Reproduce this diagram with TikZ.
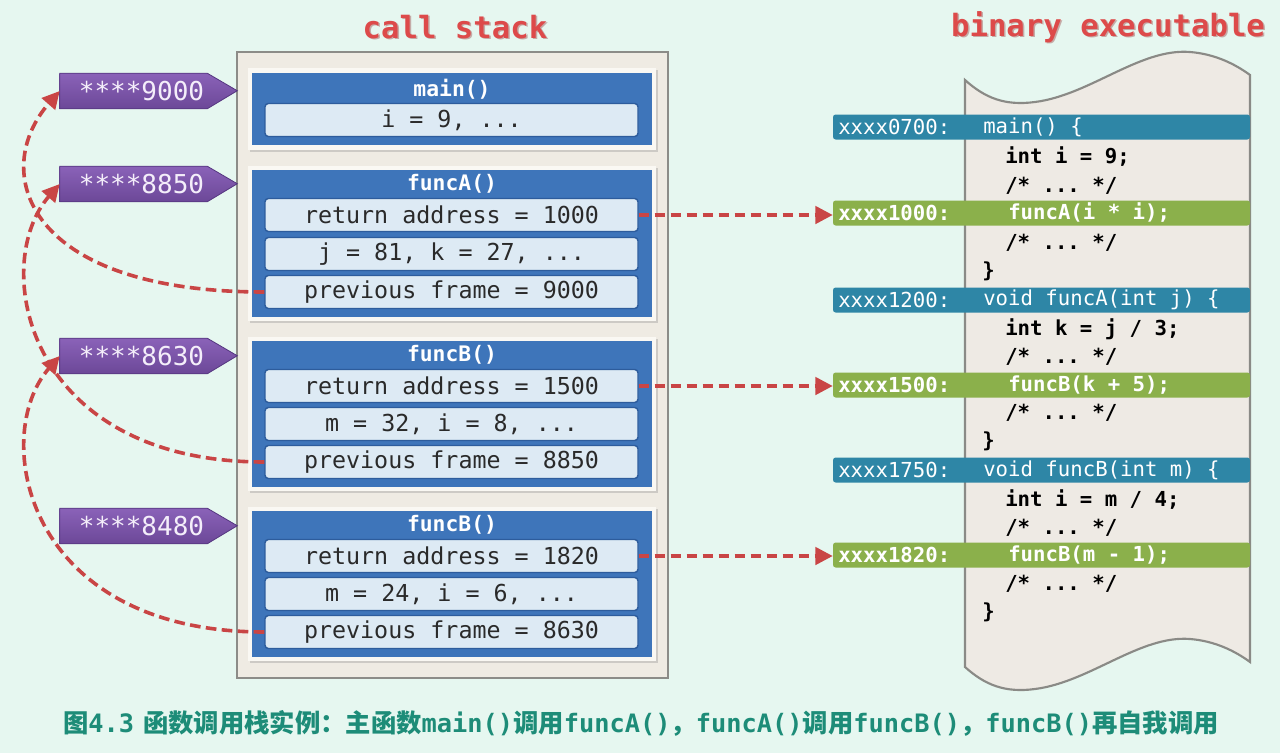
\documentclass[tikz,border=0pt]{standalone}
\usepackage{fontspec}
\setmainfont{DejaVu Sans}
\setmonofont{DejaVu Sans Mono}
\newfontfamily\cjk{Noto Sans CJK SC}
\usetikzlibrary{arrows.meta,shadows}
\definecolor{bg}{HTML}{E6F7F0}
\definecolor{stackfill}{HTML}{EFEBE3}
\definecolor{stackline}{HTML}{8C8C88}
\definecolor{framefill}{HTML}{3E75BA}
\definecolor{frameedge}{HTML}{FAF8F3}
\definecolor{slotfill}{HTML}{DDEAF4}
\definecolor{slotline}{HTML}{2D5C9C}
\definecolor{txtdark}{HTML}{2A2A2A}
\definecolor{lbltop}{HTML}{8A62B8}
\definecolor{lblbot}{HTML}{6C4898}
\definecolor{lbledge}{HTML}{553680}
\definecolor{lbltxt}{HTML}{F4EEFA}
\definecolor{titlered}{HTML}{DD4A4A}
\definecolor{titleshadow}{HTML}{8A2020}
\definecolor{arrowred}{HTML}{C94545}
\definecolor{barblue}{HTML}{2E86A6}
\definecolor{bargreen}{HTML}{8BB04B}
\definecolor{paper}{HTML}{EEEAE4}
\definecolor{paperline}{HTML}{8A8A86}
\definecolor{captc}{HTML}{1D8C78}
\begin{document}
\begin{tikzpicture}[x=0.75pt,y=-0.75pt,
  slot/.style={draw=slotline, line width=1.1pt, fill=slotfill, rounded corners=2.5pt,
    minimum width=373*0.75pt, minimum height=33*0.75pt, inner sep=0,
    font=\fontsize{17.5}{20}\ttfamily, text=txtdark},
  ftitle/.style={font=\fontsize{16}{18}\ttfamily\bfseries, text=white, inner sep=0},
  lblbox/.style={minimum width=147*0.75pt, minimum height=35*0.75pt, inner sep=0},
  lbltext/.style={font=\fontsize{19.5}{22}\ttfamily, text=lbltxt, inner sep=0},
  bar/.style={minimum width=417*0.75pt, minimum height=25*0.75pt, inner sep=0, rounded corners=2pt},
  addr/.style={anchor=west, inner sep=0, font=\fontsize{15.5}{18}\ttfamily, text=white},
  addrg/.style={anchor=west, inner sep=0, font=\fontsize{15.5}{18}\ttfamily\bfseries, text=white},
  code/.style={anchor=west, inner sep=0, font=\fontsize{15.5}{18}\ttfamily\bfseries, text=black},
  redarrow/.style={draw=arrowred, line width=2.7pt, dash pattern=on 8pt off 4pt,
    -{Triangle[length=13pt,width=13pt]}},
  titletext/.style={font=\fontsize{23}{26}\ttfamily\bfseries, text=titlered, inner sep=0},
  frameshadow/.style={drop shadow={shadow xshift=1.5pt, shadow yshift=-1.5pt, opacity=0.3}}
]
\path[use as bounding box, fill=bg] (0,0) rectangle (1280,753);

% titles
\node[titletext, text=titleshadow, opacity=0.35] (tcsS) at (456.5,28.5) {call stack};
\node[titletext] (tcs) at (455,27) {call stack};
\node[titletext, text=titleshadow, opacity=0.35] (tbeS) at (1109.5,28.5) {binary executable};
\node[titletext] (tbe) at (1108,27) {binary executable};

% stack container
\filldraw[fill=stackfill, draw=stackline, line width=1.5pt] (237,52) rectangle (668,678);

% frames
\path[fill=frameedge, frameshadow] (248,68) rectangle (656,150);
\fill[framefill] (252,73) rectangle (652,145);
\path[fill=frameedge, frameshadow] (248,166) rectangle (656,321);
\fill[framefill] (252,170) rectangle (652,317);
\path[fill=frameedge, frameshadow] (248,337) rectangle (656,491);
\fill[framefill] (252,341) rectangle (652,487);
\path[fill=frameedge, frameshadow] (248,507) rectangle (656,661);
\fill[framefill] (252,511) rectangle (652,657);

\node[ftitle] (fM) at (452,89) {main()};
\node[ftitle] (fA) at (452,184) {funcA()};
\node[ftitle] (fB1) at (452,355) {funcB()};
\node[ftitle] (fB2) at (452,525) {funcB()};

\node[slot] (sM) at (451.5,120) {i = 9, ...};
\node[slot] (sAr) at (451.5,215) {return address = 1000};
\node[slot] (sAv) at (451.5,254) {j = 81, k = 27, ...};
\node[slot] (sAp) at (451.5,292) {previous frame = 9000};
\node[slot] (sB1r) at (451.5,386) {return address = 1500};
\node[slot] (sB1v) at (451.5,424) {m = 32, i = 8, ...};
\node[slot] (sB1p) at (451.5,462) {previous frame = 8850};
\node[slot] (sB2r) at (451.5,556) {return address = 1820};
\node[slot] (sB2v) at (451.5,594) {m = 24, i = 6, ...};
\node[slot] (sB2p) at (451.5,632) {previous frame = 8630};

% address labels
\foreach \n/\y in {9000/91, 8850/184, 8630/356, 8480/526}{
  \node[lblbox] (l\n) at (133.5,\y) {};
  \shade[top color=lbltop, bottom color=lblbot, draw=lbledge, line width=0.6pt]
    (l\n.north west) -- (l\n.north east) -- ++(30,17.5) -- (l\n.south east)
    -- (l\n.south west) -- cycle;
  \node[lbltext] (t\n) at (141.5,\y) {****\n};
}

% binary executable paper
\filldraw[fill=paper, draw=paperline, line width=1.6pt]
  (965,80) .. controls (985,98) and (1005,106) .. (1035,102)
  .. controls (1090,95) and (1140,48) .. (1190,52)
  .. controls (1215,54) and (1235,64) .. (1250,75)
  -- (1250,662)
  .. controls (1235,651) and (1215,641) .. (1190,639)
  .. controls (1140,635) and (1090,682) .. (1035,689)
  .. controls (1005,693) and (985,685) .. (965,667) -- cycle;

% bars
\node[bar, fill=barblue] (b0700) at (1041.5,127) {};
\node[bar, fill=bargreen] (g1000) at (1041.5,213) {};
\node[bar, fill=barblue] (b1200) at (1041.5,300) {};
\node[bar, fill=bargreen] (g1500) at (1041.5,385) {};
\node[bar, fill=barblue] (b1750) at (1041.5,470) {};
\node[bar, fill=bargreen] (g1820) at (1041.5,555) {};

\node[addr] (a0700) at (838,127) {xxxx0700:};
\node[addr] (k0700) at (983,127) {main() \{};
\node[addrg] (a1000) at (838,213) {xxxx1000:};
\node[addrg] (k1000) at (1008,213) {funcA(i * i);};
\node[addr] (a1200) at (838,300) {xxxx1200:};
\node[addr] (k1200) at (983,300) {void funcA(int j) \{};
\node[addrg] (a1500) at (838,385) {xxxx1500:};
\node[addrg] (k1500) at (1008,385) {funcB(k + 5);};
\node[addr] (a1750) at (838,470) {xxxx1750:};
\node[addr] (k1750) at (983,470) {void funcB(int m) \{};
\node[addrg] (a1820) at (838,555) {xxxx1820:};
\node[addrg] (k1820) at (1008,555) {funcB(m - 1);};

\node[code] (c1) at (1005,157) {int i = 9;};
\node[code] (c2) at (1005,186) {/* ... */};
\node[code] (c3) at (1005,243) {/* ... */};
\node[code] (c4) at (982,271) {\}};
\node[code] (c5) at (1005,329) {int k = j / 3;};
\node[code] (c6) at (1005,357) {/* ... */};
\node[code] (c7) at (1005,413) {/* ... */};
\node[code] (c8) at (982,441) {\}};
\node[code] (c9) at (1005,500) {int i = m / 4;};
\node[code] (c10) at (1005,528) {/* ... */};
\node[code] (c11) at (1005,584) {/* ... */};
\node[code] (c12) at (982,612) {\}};

% return address arrows
\draw[redarrow] (sAr.east) -- (sAr.east -| g1000.west);
\draw[redarrow] (sB1r.east) -- (sB1r.east -| g1500.west);
\draw[redarrow] (sB2r.east) -- (sB2r.east -| g1820.west);

% previous frame arrows
\draw[redarrow] (sAp.west) .. controls +(-240,0) and +(-70,80) .. (l9000.west);
\draw[redarrow] (sB1p.west) .. controls +(-240,0) and +(-70,80) .. (l8850.west);
\draw[redarrow] (sB2p.west) .. controls +(-240,0) and +(-70,80) .. (l8630.west);

% caption
\node[inner sep=0, text=captc, font=\fontsize{19}{23}\bfseries] (cap) at (641,723)
  {{\cjk\bfseries 图}{\ttfamily\bfseries 4.3} {\cjk\bfseries 函数调用栈实例：主函数}{\ttfamily\bfseries main()}{\cjk\bfseries 调用}{\ttfamily\bfseries funcA()}{\cjk\bfseries ，}{\ttfamily\bfseries funcA()}{\cjk\bfseries 调用}{\ttfamily\bfseries funcB()}{\cjk\bfseries ，}{\ttfamily\bfseries funcB()}{\cjk\bfseries 再自我调用}};
\end{tikzpicture}
\end{document}
